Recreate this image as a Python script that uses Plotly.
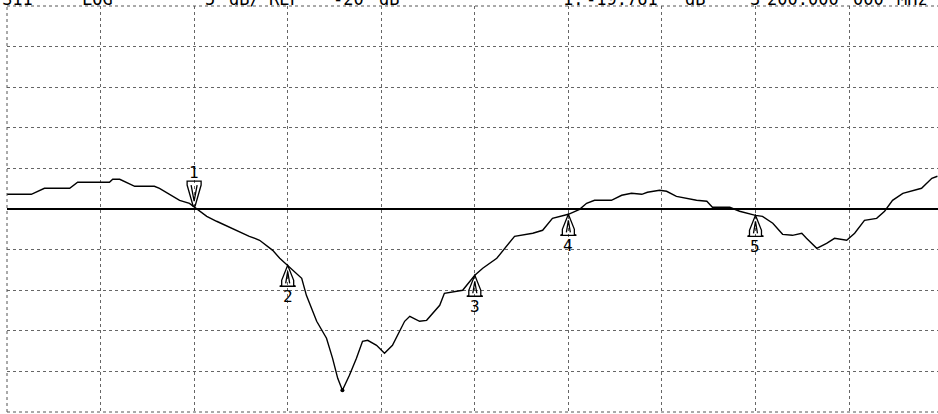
import numpy as np
import plotly.graph_objects as go

# ---- data (frequency in GHz, S11 in dB) ----
freq_ghz = [2.800, 2.852, 2.880, 2.934, 2.951, 3.019, 3.026, 3.041, 3.073, 3.115,
            3.126, 3.141, 3.169, 3.190, 3.200, 3.227, 3.248, 3.297, 3.318, 3.340,
            3.355, 3.368, 3.383, 3.400, 3.430, 3.440, 3.462, 3.483, 3.496, 3.507,
            3.517, 3.532, 3.547, 3.560, 3.571, 3.590, 3.607, 3.624, 3.639, 3.650,
            3.661, 3.682, 3.697, 3.710, 3.725, 3.735, 3.774, 3.800, 3.817, 3.847,
            3.868, 3.885, 3.924, 3.945, 3.966, 3.988, 4.000, 4.024, 4.039, 4.056,
            4.092, 4.114, 4.135, 4.157, 4.169, 4.195, 4.210, 4.231, 4.274, 4.296,
            4.308, 4.345, 4.366, 4.400, 4.415, 4.437, 4.458, 4.479, 4.499, 4.509,
            4.531, 4.552, 4.569, 4.595, 4.612, 4.633, 4.659, 4.676, 4.693, 4.715,
            4.734, 4.755, 4.777, 4.789]
s11_db = [-18.19, -18.19, -17.45, -17.45, -16.71, -16.71, -16.34, -16.34, -17.20, -17.20,
          -17.45, -17.94, -18.93, -19.30, -19.76, -20.90, -21.51, -22.87, -23.36, -23.85,
          -24.47, -25.09, -26.07, -26.93, -28.53, -30.63, -33.83, -35.92, -38.39, -40.85,
          -42.33, -40.48, -38.39, -36.29, -36.17, -36.79, -37.77, -36.79, -35.06, -33.83,
          -33.21, -33.83, -33.71, -32.84, -31.86, -30.38, -30.01, -28.16, -27.30, -26.07,
          -24.59, -23.36, -22.99, -22.62, -21.15, -20.78, -20.65, -20.04, -19.30, -18.93,
          -18.93, -18.31, -18.07, -18.19, -17.94, -17.70, -17.82, -18.44, -18.93, -19.05,
          -19.79, -19.79, -20.28, -20.78, -20.90, -21.76, -23.12, -23.24, -22.99, -23.61,
          -24.84, -24.22, -23.61, -23.85, -22.99, -21.39, -21.15, -20.28, -18.93, -18.07,
          -17.82, -17.45, -16.22, -15.97]

marker_ids = ["1", "2", "3", "4", "5"]
marker_freqs = [3.2, 3.4, 3.8, 4.0, 4.4]

ref_level_db = -20
db_per_div = 5
start_ghz = 2.8
ghz_per_div = 0.2

header_tokens = ["S11", "LOG", "5", "dB/", "REF", "-20", "dB",
                 "1:", "-19.761", "dB", "3", "200.000", "000", "MHz"]
header_px = [0, 80, 203, 227, 267, 331, 377, 561, 584, 683, 748, 765, 851, 895]

# ---- figure ----
W, H = 938, 414
ML, MR, MT, MB = 7, 0, 6, 2
pw = W - ML - MR
div_px = 93.56
x_end = start_ghz + pw / div_px * ghz_per_div

fig = go.Figure()
fig.add_trace(go.Scatter(x=freq_ghz, y=s11_db, mode="lines",
                         line=dict(color="black", width=1.4), hoverinfo="skip"))
imin = int(np.argmin(s11_db))
fig.add_trace(go.Scatter(x=[freq_ghz[imin]], y=[s11_db[imin]], mode="markers",
                         marker=dict(color="black", size=4), hoverinfo="skip"))

marker_vals = np.interp(marker_freqs, freq_ghz, s11_db)

shapes = []
# reference line
shapes.append(dict(type="line", xref="paper", yref="y", x0=0, x1=1,
                   y0=ref_level_db, y1=ref_level_db,
                   line=dict(color="black", width=2)))
# dotted border (left, top, bottom)
for (x0, y0, x1, y1) in [(0, 0, 0, 1), (0, 1, 1, 1), (0, 0, 1, 0)]:
    shapes.append(dict(type="line", xref="paper", yref="paper", x0=x0, y0=y0, x1=x1, y1=y1,
                       line=dict(color="#555", width=1, dash="dot")))

annotations = []
down_path = "M -7 26 L 7 26 L 7 22 L 1 1 L -1 1 L -7 22 Z M -3 22 L 0 6 L 3 22"
up_path = "M 0 0 L 6 -15 L 6 -20 L 8 -21 L -8 -21 L -6 -20 L -6 -15 Z M -2 -18 L 0 -6 L 2 -18"
for mid, mf, mv in zip(marker_ids, marker_freqs, marker_vals):
    active = (mid == "1")
    shapes.append(dict(type="path", xref="x", yref="y", xsizemode="pixel", ysizemode="pixel",
                       xanchor=mf, yanchor=float(mv),
                       path=down_path if active else up_path,
                       line=dict(color="black", width=1.3), fillcolor="rgba(0,0,0,0)"))
    annotations.append(dict(x=mf, y=float(mv), xref="x", yref="y", text=mid, showarrow=False,
                            yshift=35 if active else -31,
                            font=dict(family="DejaVu Sans Mono", size=16, color="black")))

for tok, px in zip(header_tokens, header_px):
    annotations.append(dict(x=0, y=1, xref="paper", yref="paper", xanchor="left",
                            yanchor="middle", xshift=px - ML, yshift=7, text=tok,
                            showarrow=False,
                            font=dict(family="DejaVu Sans Mono", size=17, color="black")))

fig.update_layout(
    width=W, height=H,
    margin=dict(l=ML, r=MR, t=MT, b=MB, pad=0),
    paper_bgcolor="white", plot_bgcolor="white",
    showlegend=False,
    shapes=shapes, annotations=annotations,
    xaxis=dict(range=[start_ghz, x_end], tick0=start_ghz, dtick=ghz_per_div,
               showgrid=True, gridcolor="#666", griddash="dot", gridwidth=1,
               showticklabels=False, ticks="", zeroline=False, showline=False),
    yaxis=dict(range=[ref_level_db - 5 * db_per_div, ref_level_db + 5 * db_per_div],
               tick0=ref_level_db, dtick=db_per_div,
               showgrid=True, gridcolor="#666", griddash="dot", gridwidth=1,
               showticklabels=False, ticks="", zeroline=False, showline=False),
)

fig.write_html("out.html", config={"displayModeBar": False},
               post_script="document.body.style.margin='0';document.body.style.padding='0';document.body.style.overflow='hidden';")
